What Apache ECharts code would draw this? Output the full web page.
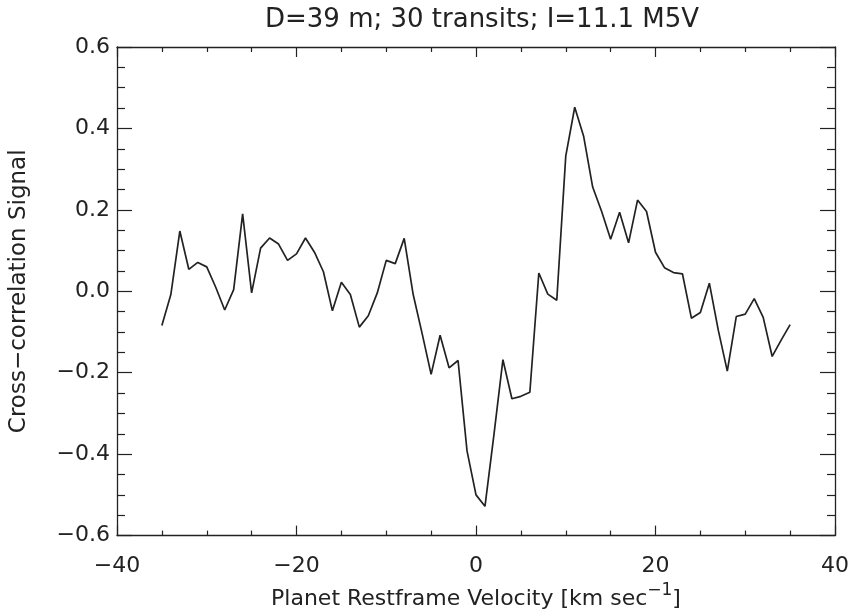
<!DOCTYPE html>
<html>
<head>
<meta charset="utf-8">
<script src="https://cdn.jsdelivr.net/npm/echarts@6/dist/echarts.min.js"></script>
<style>html,body{margin:0;padding:0;background:#fff}#c{width:852px;height:615px}</style>
</head>
<body>
<div id="c"></div>
<script>
const velocities = [-35,-34,-33,-32,-31,-30,-29,-28,-27,-26,-25,-24,-23,-22,-21,-20,-19,-18,-17,-16,-15,-14,-13,-12,-11,-10,-9,-8,-7,-6,-5,-4,-3,-2,-1,0,1,2,3,4,5,6,7,8,9,10,11,12,13,14,15,16,17,18,19,20,21,22,23,24,25,26,27,28,29,30,31,32,33,34,35];
const signal = [-0.084,-0.008,0.148,0.054,0.071,0.060,0.010,-0.046,0.004,0.190,-0.004,0.106,0.131,0.116,0.076,0.092,0.131,0.096,0.048,-0.048,0.022,-0.008,-0.088,-0.060,-0.004,0.076,0.068,0.130,-0.008,-0.104,-0.204,-0.108,-0.188,-0.170,-0.392,-0.500,-0.528,-0.352,-0.168,-0.264,-0.258,-0.248,0.045,-0.007,-0.022,0.332,0.452,0.380,0.256,0.196,0.128,0.194,0.119,0.224,0.196,0.096,0.058,0.046,0.043,-0.066,-0.052,0.020,-0.096,-0.196,-0.062,-0.056,-0.018,-0.064,-0.160,-0.120,-0.082];
const xTicks = [-40,-20,0,20,40];
const yTicks = [-0.6,-0.4,-0.2,0.0,0.2,0.4,0.6];
const titleText = 'D=39 m; 30 transits; I=11.1 M5V';

const FONT = 'DejaVu Sans';
const INK = '#222';
const fmtMinus = s => s.replace('-', '\u2212');

const chart = echarts.init(document.getElementById('c'), null, {renderer: 'canvas'});
const axisLine = {show: true, onZero: false, lineStyle: {color: INK, width: 1.3}};
const xTickCommon = {show: true, inside: true, length: 10, lineStyle: {color: INK, width: 1.2}};
const yTickCommon = {show: true, inside: true, length: 15, lineStyle: {color: INK, width: 1.2}};
const xMinor = {show: true, splitNumber: 4, length: 5, lineStyle: {color: INK, width: 1.2}};
const yMinor = {show: true, splitNumber: 4, length: 8, lineStyle: {color: INK, width: 1.2}};

chart.setOption({
  animation: false,
  backgroundColor: '#fff',
  title: {
    text: titleText, left: 477, top: 2, textAlign: 'center',
    textStyle: {fontFamily: FONT, fontSize: 26, fontWeight: 'normal', color: INK}
  },
  grid: {left: 117, right: 15, top: 47, bottom: 68, containLabel: false},
  xAxis: [{
    type: 'value', min: xTicks[0], max: xTicks[xTicks.length-1], interval: 20, position: 'bottom',
    axisLine: axisLine, axisTick: xTickCommon, minorTick: xMinor, splitLine: {show: false},
    axisLabel: {fontFamily: FONT, fontSize: 22, color: INK, margin: 20, formatter: v => fmtMinus(String(v))},
    name: 'Planet Restframe Velocity [km sec{sup|\u22121}]', nameLocation: 'middle', nameGap: 44,
    nameTextStyle: {fontFamily: FONT, fontSize: 22, color: INK,
      rich: {sup: {fontFamily: FONT, fontSize: 17, color: INK, verticalAlign: 'bottom', padding: [0,0,16,0]}}}
  }, {
    type: 'value', min: xTicks[0], max: xTicks[xTicks.length-1], interval: 20, position: 'top',
    axisLine: axisLine, axisTick: xTickCommon, minorTick: xMinor, splitLine: {show: false},
    axisLabel: {show: false}
  }],
  yAxis: [{
    type: 'value', min: yTicks[0], max: yTicks[yTicks.length-1], interval: 0.2, position: 'left',
    axisLine: axisLine, axisTick: yTickCommon, minorTick: yMinor, splitLine: {show: false},
    axisLabel: {fontFamily: FONT, fontSize: 22, color: INK, margin: 7, formatter: v => fmtMinus(v.toFixed(1))},
    name: 'Cross\u2212correlation Signal', nameLocation: 'middle', nameGap: 86, nameRotate: 90,
    nameTextStyle: {fontFamily: FONT, fontSize: 23, color: INK}
  }, {
    type: 'value', min: yTicks[0], max: yTicks[yTicks.length-1], interval: 0.2, position: 'right',
    axisLine: axisLine, axisTick: yTickCommon, minorTick: yMinor, splitLine: {show: false},
    axisLabel: {show: false}
  }],
  series: [{
    type: 'line', xAxisIndex: 0, yAxisIndex: 0,
    data: velocities.map((v, i) => [v, signal[i]]),
    showSymbol: false, symbol: 'none',
    lineStyle: {color: INK, width: 1.7}
  }]
});
</script>
</body>
</html>
